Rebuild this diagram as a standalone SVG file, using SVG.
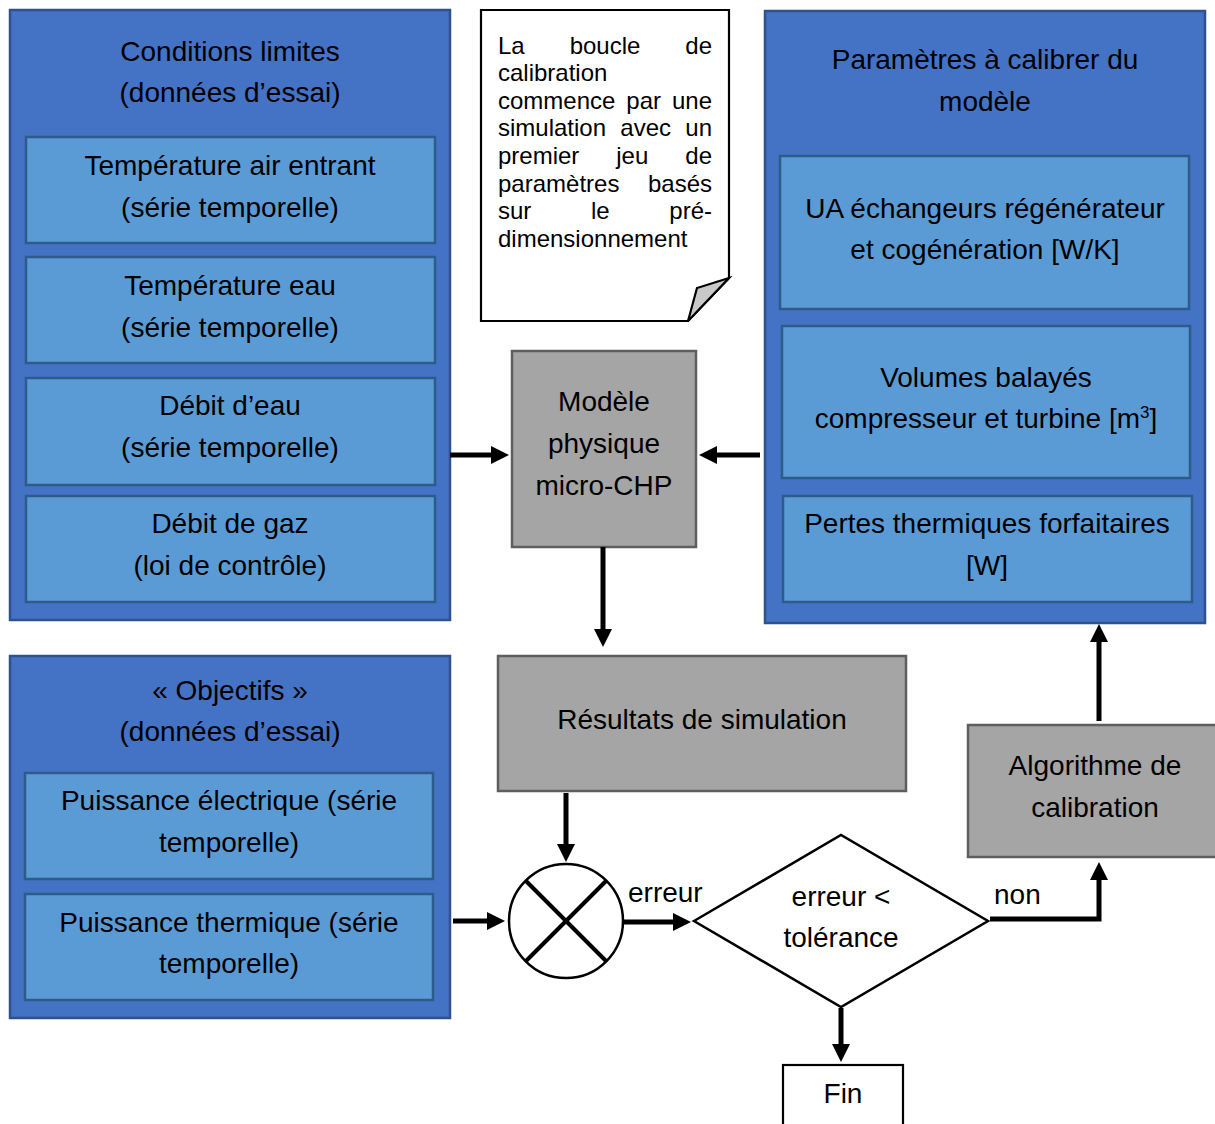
<svg xmlns="http://www.w3.org/2000/svg" width="1215" height="1124" viewBox="0 0 1215 1124">
<style>
text{font-family:"Liberation Sans",Arial,sans-serif;fill:#000;}
.t{font-size:28px;text-anchor:middle;}
.lbl{font-size:28px;}
.n{font-size:24px;}
.outer{fill:#4472C4;stroke:#2F528F;stroke-width:2.5;}
.inner{fill:#5B9BD5;stroke:#2E5C8A;stroke-width:2.5;}
.grey{fill:#A5A5A5;stroke:#5E5E5E;stroke-width:2.5;}
.plain{fill:#fff;stroke:#000;stroke-width:2.2;}
.c{fill:none;stroke:#000;stroke-width:5;}
</style>
<defs>
<marker id="ah" markerUnits="userSpaceOnUse" markerWidth="20" markerHeight="20" refX="1" refY="9" orient="auto">
<path d="M0,0 L18,9 L0,18 z" fill="#000"/>
</marker>
</defs>

<g id="conditions">
<rect class="outer" x="10" y="10" width="440" height="610"/>
<text class="t" x="230" y="61">Conditions limites</text>
<text class="t" x="230" y="102">(données d’essai)</text>
<rect class="inner" x="26" y="137" width="409" height="106"/>
<text class="t" x="230" y="175">Température air entrant</text>
<text class="t" x="230" y="217">(série temporelle)</text>
<rect class="inner" x="26" y="257" width="409" height="106"/>
<text class="t" x="230" y="295">Température eau</text>
<text class="t" x="230" y="337">(série temporelle)</text>
<rect class="inner" x="26" y="378" width="409" height="107"/>
<text class="t" x="230" y="415">Débit d’eau</text>
<text class="t" x="230" y="457">(série temporelle)</text>
<rect class="inner" x="26" y="496" width="409" height="106"/>
<text class="t" x="230" y="533">Débit de gaz</text>
<text class="t" x="230" y="575">(loi de contrôle)</text>
</g>

<g id="objectifs">
<rect class="outer" x="10" y="656" width="440" height="362"/>
<text class="t" x="230" y="700">« Objectifs »</text>
<text class="t" x="230" y="741">(données d’essai)</text>
<rect class="inner" x="25" y="773" width="408" height="106"/>
<text class="t" x="229" y="810">Puissance électrique (série</text>
<text class="t" x="229" y="852">temporelle)</text>
<rect class="inner" x="25" y="894" width="408" height="106"/>
<text class="t" x="229" y="932">Puissance thermique (série</text>
<text class="t" x="229" y="973">temporelle)</text>
</g>

<g id="note">
<path class="plain" d="M481,10 L729,10 L729,278 L688,321 L481,321 Z"/>
<polygon points="729,278 697,288 688,321" fill="#C9C9C9" stroke="#000" stroke-width="2.2" stroke-linejoin="miter"/>
<g class="n">
<text x="498" y="53.5">La</text><text x="605" y="53.5" text-anchor="middle">boucle</text><text x="712" y="53.5" text-anchor="end">de</text>
<text x="498" y="81.1">calibration</text>
<text x="498" y="108.7">commence</text><text x="643.7" y="108.7" text-anchor="middle">par</text><text x="712" y="108.7" text-anchor="end">une</text>
<text x="498" y="136.3">simulation</text><text x="645.7" y="136.3" text-anchor="middle">avec</text><text x="712" y="136.3" text-anchor="end">un</text>
<text x="498" y="163.9">premier</text><text x="632.3" y="163.9" text-anchor="middle">jeu</text><text x="712" y="163.9" text-anchor="end">de</text>
<text x="498" y="191.5">paramètres</text><text x="712" y="191.5" text-anchor="end">basés</text>
<text x="498" y="219.1">sur</text><text x="600.3" y="219.1" text-anchor="middle">le</text><text x="712" y="219.1" text-anchor="end">pré-</text>
<text x="498" y="246.7">dimensionnement</text>
</g>
</g>

<g id="parametres">
<rect class="outer" x="765" y="11" width="440" height="612"/>
<text class="t" x="985" y="69">Paramètres à calibrer du</text>
<text class="t" x="985" y="111">modèle</text>
<rect class="inner" x="780" y="156" width="409" height="153"/>
<text class="t" x="985" y="218">UA échangeurs régénérateur</text>
<text class="t" x="985" y="259">et cogénération [W/K]</text>
<rect class="inner" x="782" y="326" width="408" height="152"/>
<text class="t" x="986" y="387">Volumes balayés</text>
<text class="t" x="986" y="428">compresseur et turbine [m<tspan font-size="17" dy="-10">3</tspan><tspan dy="10">]</tspan></text>
<rect class="inner" x="783" y="496" width="409" height="106"/>
<text class="t" x="987" y="533">Pertes thermiques forfaitaires</text>
<text class="t" x="987" y="575">[W]</text>
</g>

<g id="modele">
<rect class="grey" x="512" y="351" width="184" height="196"/>
<text class="t" x="604" y="411">Modèle</text>
<text class="t" x="604" y="453">physique</text>
<text class="t" x="604" y="495">micro-CHP</text>
</g>

<g id="resultats">
<rect class="grey" x="498" y="656" width="408" height="135"/>
<text class="t" x="702" y="729">Résultats de simulation</text>
</g>

<g id="algorithme">
<rect class="grey" x="968" y="725" width="262" height="132"/>
<text class="t" x="1095" y="775">Algorithme de</text>
<text class="t" x="1095" y="817">calibration</text>
</g>

<g id="comparateur">
<circle cx="566" cy="921" r="57" fill="#fff" stroke="#000" stroke-width="2.5"/>
<line x1="526" y1="881" x2="606" y2="961" stroke="#000" stroke-width="4"/>
<line x1="606" y1="881" x2="526" y2="961" stroke="#000" stroke-width="4"/>
</g>

<g id="test">
<polygon points="694,921 841,835 988,921 841,1007" fill="#fff" stroke="#000" stroke-width="2.5"/>
<text class="t" x="841" y="906">erreur &lt;</text>
<text class="t" x="841" y="947">tolérance</text>
</g>

<g id="fin">
<rect class="plain" x="783" y="1065" width="120" height="70"/>
<text class="t" x="843" y="1103">Fin</text>
</g>

<g id="connectors">
<line class="c" x1="450" y1="455" x2="492" y2="455" marker-end="url(#ah)"/>
<line class="c" x1="760" y1="455" x2="716" y2="455" marker-end="url(#ah)"/>
<line class="c" x1="603" y1="547" x2="603" y2="630" marker-end="url(#ah)"/>
<line class="c" x1="566" y1="793" x2="566" y2="845" marker-end="url(#ah)"/>
<line class="c" x1="453" y1="921" x2="488" y2="921" marker-end="url(#ah)"/>
<line class="c" x1="624" y1="922" x2="674" y2="922" marker-end="url(#ah)"/>
<line class="c" x1="841" y1="1008" x2="841" y2="1045" marker-end="url(#ah)"/>
<polyline class="c" points="990,919 1099,919 1099,879" marker-end="url(#ah)"/>
<line class="c" x1="1099" y1="721" x2="1099" y2="641" marker-end="url(#ah)"/>
<text class="lbl" x="628" y="902">erreur</text>
<text class="lbl" x="994" y="904">non</text>
</g>
</svg>
